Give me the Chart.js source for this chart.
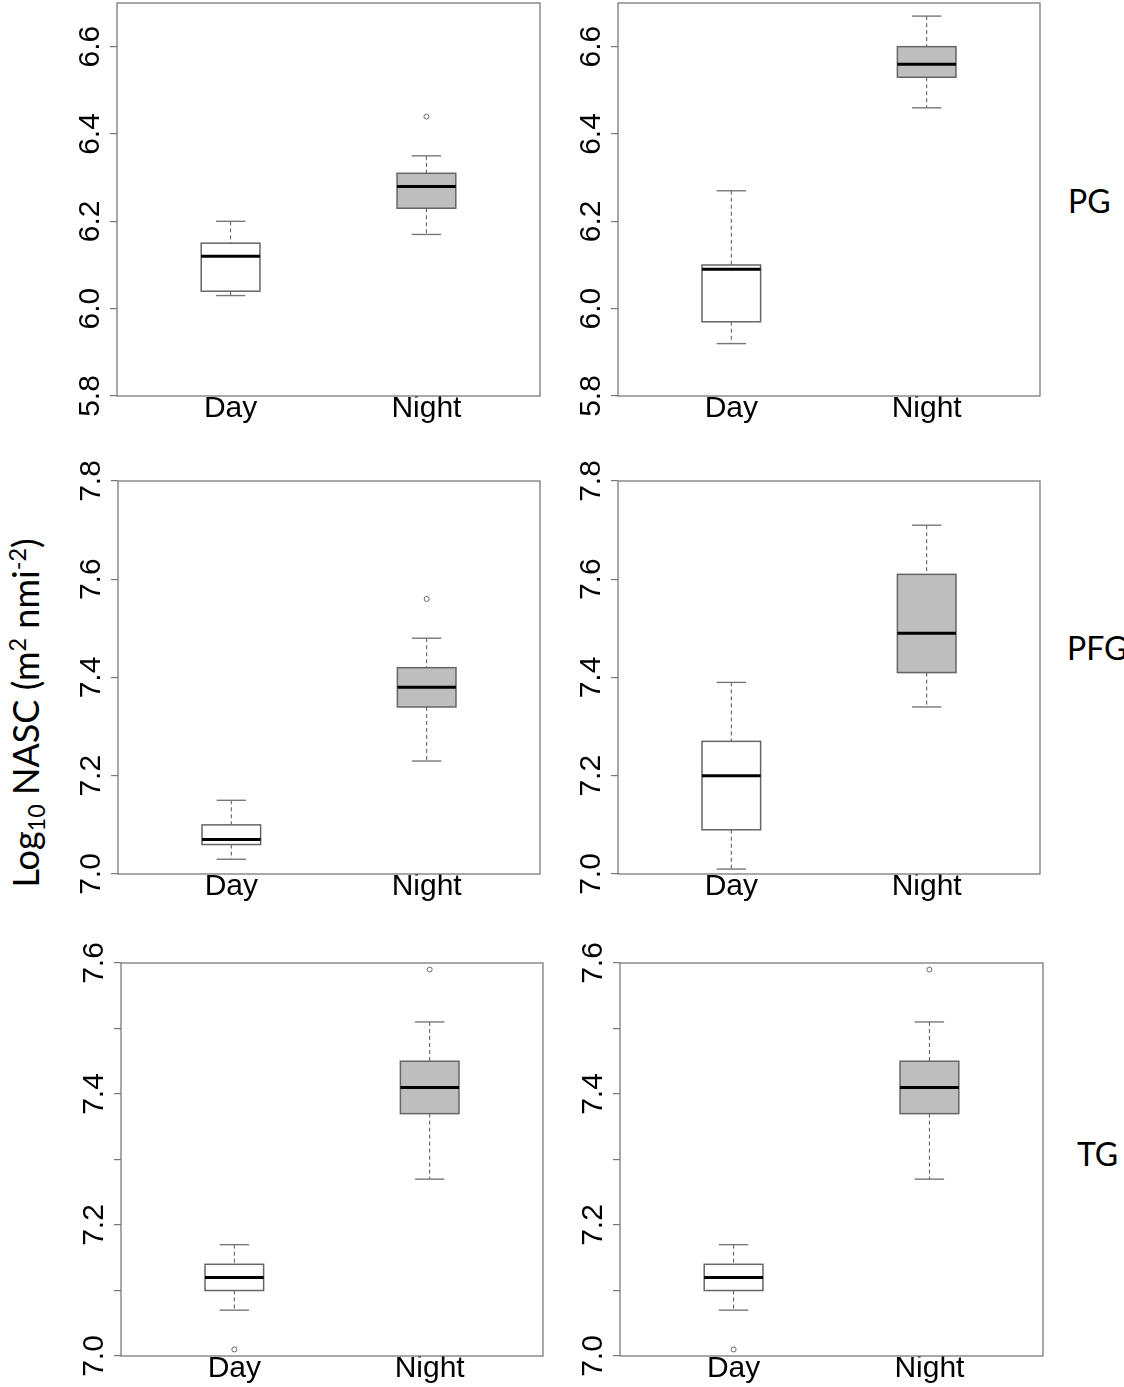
<!DOCTYPE html>
<html>
<head>
<meta charset="utf-8">
<script src="https://cdn.jsdelivr.net/npm/chart.js@4.4.1/dist/chart.umd.min.js"></script>
<style>
  body { margin: 0; background: #fff; }
  #figure { position: relative; width: 1124px; height: 1387px; overflow: hidden; background: #fff; }
  #figure canvas { position: absolute; }
  .row-label { position: absolute; font-family: Lato, "Open Sans", sans-serif; font-size: 32px; line-height: 32px; color: #000; white-space: nowrap; }
  #y-title {
    position: absolute; left: 25px; top: 713px;
    font-family: Lato, "Open Sans", sans-serif; font-size: 36px; line-height: 36px; color: #000;
    white-space: nowrap; transform: translate(-50%, -50%) rotate(-90deg);
  }
  #y-title sub, #y-title sup { font-size: 0.65em; line-height: 0; }
  #y-title sub { vertical-align: -0.25em; }
  #y-title sup { vertical-align: 0.55em; }
</style>
</head>
<body>
<div id="figure">
  <canvas id="pg-left"></canvas>
  <canvas id="pg-right"></canvas>
  <canvas id="pfg-left"></canvas>
  <canvas id="pfg-right"></canvas>
  <canvas id="tg-left"></canvas>
  <canvas id="tg-right"></canvas>
  <div class="row-label" style="left:1068px; top:185px;">PG</div>
  <div class="row-label" style="left:1067px; top:632px;">PFG</div>
  <div class="row-label" style="left:1077px; top:1138px;">TG</div>
  <div id="y-title">Log<sub>10</sub> NASC (m<sup>2</sup> nmi<sup>-2</sup>)</div>
</div>
<script>
const groups = ["Day", "Night"];

// [lower whisker, Q1, median, Q3, upper whisker] for Day and Night
const pgLeftStats = [[6.03, 6.04, 6.12, 6.15, 6.20], [6.17, 6.23, 6.28, 6.31, 6.35]];
const pgLeftOutliers = [[], [6.44]];
const pgRightStats = [[5.92, 5.97, 6.09, 6.10, 6.27], [6.46, 6.53, 6.56, 6.60, 6.67]];
const pgRightOutliers = [[], []];

const pfgLeftStats = [[7.03, 7.06, 7.07, 7.10, 7.15], [7.23, 7.34, 7.38, 7.42, 7.48]];
const pfgLeftOutliers = [[], [7.56]];
const pfgRightStats = [[7.01, 7.09, 7.20, 7.27, 7.39], [7.34, 7.41, 7.49, 7.61, 7.71]];
const pfgRightOutliers = [[], []];

const tgLeftStats = [[7.07, 7.10, 7.12, 7.14, 7.17], [7.27, 7.37, 7.41, 7.45, 7.51]];
const tgLeftOutliers = [[7.01], [7.59]];
const tgRightStats = [[7.07, 7.10, 7.12, 7.14, 7.17], [7.27, 7.37, 7.41, 7.45, 7.51]];
const tgRightOutliers = [[7.01], [7.59]];

const pgRange = [5.8, 6.7];
const pgTicks = [5.8, 6.0, 6.2, 6.4, 6.6];
const pfgRange = [7.0, 7.8];
const pfgTicks = [7.0, 7.2, 7.4, 7.6, 7.8];
const tgRange = [7.0, 7.6];
const tgTicks = [7.0, 7.1, 7.2, 7.3, 7.4, 7.5, 7.6];
const tgTickLabels = [7.0, 7.2, 7.4, 7.6];

const boxFills = ["#ffffff", "#bebebe"];
const BOX_HALF = 0.15;   // half box width, in x units
const Y_AXIS_W = 60;
const X_AXIS_H = 40;
const PAD_TOP = 25;
const PAD_RIGHT = 8;
const tickFont = { family: "'Liberation Sans', Arial, sans-serif", size: 30 };

const panels = [
  { id: "pg-left", stats: pgLeftStats, outliers: pgLeftOutliers, range: pgRange, ticks: pgTicks, labels: pgTicks, plot: [117, 3, 423, 393] },
  { id: "pg-right", stats: pgRightStats, outliers: pgRightOutliers, range: pgRange, ticks: pgTicks, labels: pgTicks, plot: [618, 3, 422, 393] },
  { id: "pfg-left", stats: pfgLeftStats, outliers: pfgLeftOutliers, range: pfgRange, ticks: pfgTicks, labels: pfgTicks, plot: [118, 481, 422, 393] },
  { id: "pfg-right", stats: pfgRightStats, outliers: pfgRightOutliers, range: pfgRange, ticks: pfgTicks, labels: pfgTicks, plot: [618, 481, 422, 393] },
  { id: "tg-left", stats: tgLeftStats, outliers: tgLeftOutliers, range: tgRange, ticks: tgTicks, labels: tgTickLabels, plot: [121, 963, 422, 393] },
  { id: "tg-right", stats: tgRightStats, outliers: tgRightOutliers, range: tgRange, ticks: tgTicks, labels: tgTickLabels, plot: [620, 963, 423, 393] },
];

function strokeLine(ctx, x1, y1, x2, y2) {
  ctx.beginPath();
  ctx.moveTo(x1, y1);
  ctx.lineTo(x2, y2);
  ctx.stroke();
}

const boxPlotPlugin = {
  id: "boxplot",
  beforeDatasetsDraw(chart, args, opts) {
    const { ctx, chartArea: area, scales: { x, y } } = chart;
    ctx.save();
    ctx.strokeStyle = "#7a7a7a";
    ctx.lineWidth = 1.3;
    ctx.strokeRect(area.left, area.top, area.width, area.height);

    opts.stats.forEach((s, i) => {
      const cx = x.getPixelForValue(i + 1);
      const half = x.getPixelForValue(i + 1 + BOX_HALF) - cx;
      const cap = half / 2;
      const [lo, q1, med, q3, hi] = s.map((v) => y.getPixelForValue(v));

      ctx.strokeStyle = "#555";
      ctx.lineWidth = 1;
      ctx.setLineDash([4, 3]);
      strokeLine(ctx, cx, hi, cx, q3);
      strokeLine(ctx, cx, q1, cx, lo);
      ctx.setLineDash([]);

      ctx.strokeStyle = "#777";
      ctx.lineWidth = 1.4;
      strokeLine(ctx, cx - cap, hi, cx + cap, hi);
      strokeLine(ctx, cx - cap, lo, cx + cap, lo);

      ctx.fillStyle = boxFills[i];
      ctx.fillRect(cx - half, q3, 2 * half, q1 - q3);
      ctx.strokeStyle = "#666";
      ctx.lineWidth = 1.5;
      ctx.strokeRect(cx - half, q3, 2 * half, q1 - q3);

      ctx.strokeStyle = "#000";
      ctx.lineWidth = 3;
      strokeLine(ctx, cx - half, med, cx + half, med);
    });
    ctx.restore();
  }
};

function makePanel(p) {
  const canvas = document.getElementById(p.id);
  const [left, top, w, h] = p.plot;
  canvas.width = Y_AXIS_W + w + PAD_RIGHT;
  canvas.height = PAD_TOP + h + X_AXIS_H;
  canvas.style.left = (left - Y_AXIS_W) + "px";
  canvas.style.top = (top - PAD_TOP) + "px";

  const outlierPoints = p.outliers.flatMap((vals, i) => vals.map((v) => ({ x: i + 1, y: v })));

  return new Chart(canvas, {
    type: "scatter",
    data: {
      datasets: [{
        data: outlierPoints,
        pointRadius: 2.5,
        pointBorderWidth: 1,
        pointBorderColor: "#666",
        pointBackgroundColor: "#fff",
      }]
    },
    options: {
      responsive: false,
      animation: false,
      events: [],
      layout: { padding: { top: PAD_TOP, right: PAD_RIGHT, left: 0, bottom: 0 } },
      plugins: {
        legend: { display: false },
        tooltip: { enabled: false },
        boxplot: { stats: p.stats },
      },
      scales: {
        x: {
          type: "linear",
          min: 0.42,
          max: 2.58,
          offset: false,
          border: { display: false },
          grid: { display: false, drawTicks: false },
          afterBuildTicks: (scale) => { scale.ticks = groups.map((g, i) => ({ value: i + 1 })); },
          afterFit: (scale) => { scale.height = X_AXIS_H; },
          ticks: {
            autoSkip: false,
            maxRotation: 0,
            padding: -5,
            color: "#000",
            font: tickFont,
            callback: (value, index) => groups[index],
          },
        },
        y: {
          type: "linear",
          min: p.range[0],
          max: p.range[1],
          border: { display: false },
          grid: { drawOnChartArea: false, drawTicks: true, tickLength: 7, color: "#777", lineWidth: 1.2 },
          afterBuildTicks: (scale) => { scale.ticks = p.ticks.map((v) => ({ value: v })); },
          afterFit: (scale) => { scale.width = Y_AXIS_W; },
          ticks: {
            autoSkip: false,
            minRotation: 90,
            maxRotation: 90,
            crossAlign: "center",
            padding: -2,
            color: "#000",
            font: tickFont,
            callback: (value) => p.labels.some((l) => Math.abs(l - value) < 1e-6) ? value.toFixed(1) : "",
          },
        },
      },
    },
    plugins: [boxPlotPlugin],
  });
}

panels.forEach(makePanel);
</script>
</body>
</html>
